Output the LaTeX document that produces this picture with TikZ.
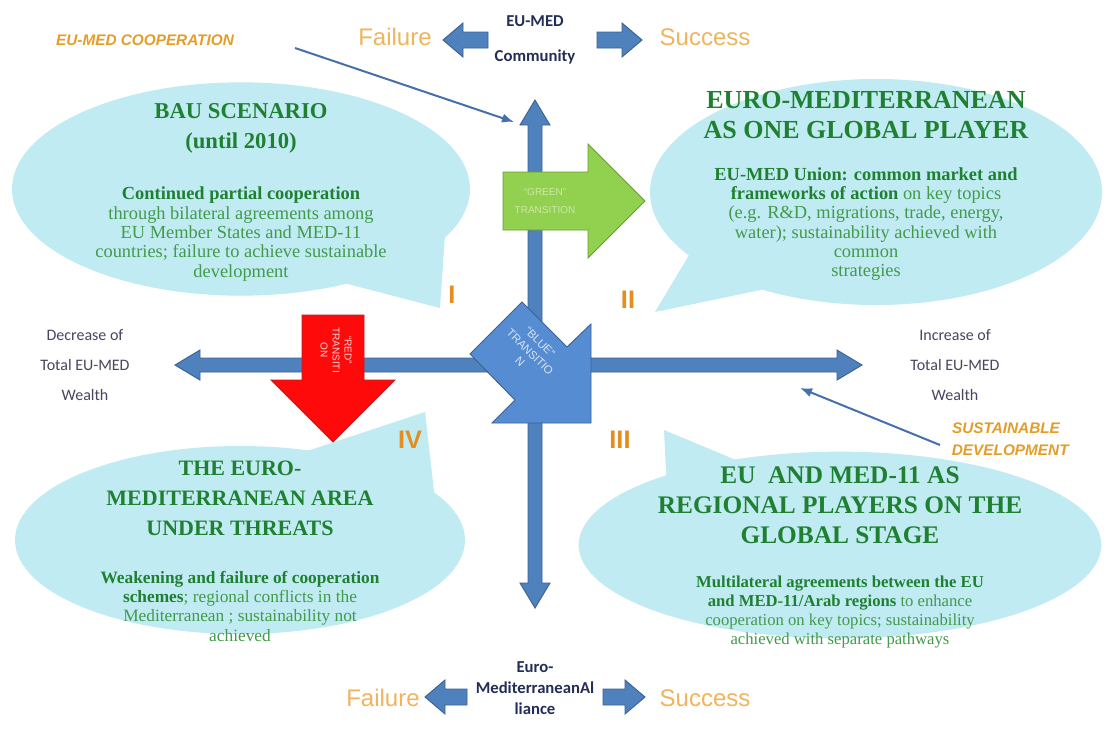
\documentclass[tikz,border=0pt]{standalone}
\usepackage{fontspec}
\setmainfont{Liberation Serif}
\newfontfamily\carl{Carlito}
\newfontfamily\ars{Liberation Sans}
\usetikzlibrary{arrows.meta}
\definecolor{axisblue}{RGB}{79,129,189}
\definecolor{axisedge}{RGB}{60,98,148}
\definecolor{transblue}{RGB}{86,140,210}
\definecolor{greenarrow}{RGB}{146,208,80}
\definecolor{greenedge}{RGB}{104,156,52}
\definecolor{redarrow}{RGB}{255,10,10}
\definecolor{rededge}{RGB}{185,30,30}
\definecolor{bubblecyan}{RGB}{192,235,242}
\definecolor{titlegreen}{RGB}{32,128,50}
\definecolor{bodygreen}{RGB}{66,154,74}
\definecolor{numorange}{RGB}{228,142,32}
\definecolor{lblorange}{RGB}{240,180,92}
\definecolor{cooporange}{RGB}{226,158,40}
\definecolor{navytext}{RGB}{35,45,85}
\definecolor{graytext}{RGB}{70,70,95}
\definecolor{pointer}{RGB}{70,112,172}
\newcommand\hb[1]{{\bfseries\color{titlegreen}#1}}
\tikzset{
  bubble/.style={fill=bubblecyan, draw=none},
  blockarrow/.style={fill=axisblue, draw=axisedge, line width=0.7pt, line join=miter},
  titletext/.style={align=center, text=titlegreen, inner sep=0pt, font=\fontsize{17}{22.5}\selectfont\bfseries},
  bodytext/.style={align=center, text=bodygreen, inner sep=0pt, font=\fontsize{13.8}{14.5}\selectfont},
  numeral/.style={text=numorange, inner sep=0pt, font=\ars\bfseries\fontsize{19}{19}\selectfont},
  axislabel/.style={align=center, text=graytext, inner sep=0pt, font=\carl\fontsize{12}{22.5}\selectfont},
  bignav/.style={align=center, text=navytext, inner sep=0pt, font=\carl\bfseries\fontsize{12.5}{26}\selectfont},
  outcome/.style={text=lblorange, inner sep=0pt, font=\ars\fontsize{18}{18}\selectfont},
  tag/.style={align=center, text=cooporange, inner sep=0pt, font=\ars\bfseries\itshape\fontsize{11.5}{16.5}\selectfont},
  pointerline/.style={draw=pointer, line width=1.5pt, -{Latex[length=9pt,width=7pt]}},
  transtext/.style={align=center, inner sep=0pt, font=\ars\fontsize{7.5}{9}\selectfont}
}
\begin{document}
\begin{tikzpicture}[x=0.75pt,y=-0.75pt]
\useasboundingbox (0,0) rectangle (1104,729);
\fill[white] (0,0) rectangle (1104,729);

% speech bubbles
\fill[bubble] (241,189) ellipse [x radius=171.75pt, y radius=80pt];
\fill[bubble] (340,282) -- (445,235) -- (440,308) -- cycle;
\fill[bubble] (876,192) ellipse [x radius=169.5pt, y radius=84.75pt];
\fill[bubble] (695,245) -- (770,288) -- (655,312) -- cycle;
\fill[bubble] (840,545) ellipse [x radius=196pt, y radius=70pt];
\fill[bubble] (668,515) -- (760,470) -- (664,430) -- cycle;
\fill[bubble] (240,540) ellipse [x radius=168.75pt, y radius=70.5pt];
\fill[bubble] (280,460) -- (435,500) -- (425,412) -- cycle;

% axes
\filldraw[blockarrow] (528,125) -- (520,125) -- (535,100) -- (550,125) -- (542,125) -- (542,583) -- (550,583) -- (535,608) -- (520,583) -- (528,583) -- cycle;
\filldraw[blockarrow] (200,358) -- (200,350) -- (175,365) -- (200,380) -- (200,372) -- (837,372) -- (837,380) -- (862,365) -- (837,350) -- (837,358) -- cycle;

% small outcome arrows
\filldraw[blockarrow] (488,32) -- (463,32) -- (463,23) -- (443,40) -- (463,57) -- (463,48) -- (488,48) -- cycle;
\filldraw[blockarrow] (597,32) -- (622,32) -- (622,23) -- (642,40) -- (622,57) -- (622,48) -- (597,48) -- cycle;
\filldraw[blockarrow] (467,689) -- (445,689) -- (445,680) -- (425,697) -- (445,714) -- (445,705) -- (467,705) -- cycle;
\filldraw[blockarrow] (603,689) -- (625,689) -- (625,680) -- (645,697) -- (625,714) -- (625,705) -- (603,705) -- cycle;

% transition arrows
\filldraw[fill=greenarrow, draw=greenedge, line width=0.7pt, line join=miter]
  (503,172) -- (588,172) -- (588,144) -- (645,201) -- (588,258) -- (588,230) -- (503,230) -- cycle;
\filldraw[fill=redarrow, draw=rededge, line width=0.7pt, line join=miter]
  (302,315) -- (364,315) -- (364,380) -- (395,380) -- (333,442) -- (271,380) -- (302,380) -- cycle;
\filldraw[fill=transblue, draw=axisedge, line width=0.7pt, line join=miter]
  (522,302) -- (567,347) -- (591,324) -- (591,423) -- (492,423) -- (515,400) -- (470,354) -- cycle;

\node[transtext, text={rgb,255:red,205;green,232;blue,170}] (greentxt) at (545,201) {“GREEN”\\[4pt]TRANSITION};
\node[transtext, text={rgb,255:red,255;green,215;blue,215}, rotate=-90] (redtxt) at (336,350) {“RED”\\TRANSITI\\ON};
\node[transtext, text={rgb,255:red,215;green,228;blue,248}, rotate=-45, font=\ars\fontsize{8.5}{10.5}\selectfont] (bluetxt) at (530,352) {“BLUE”\\TRANSITIO\\N};

% bubble texts
\node[titletext] (t1) at (241,128) {BAU SCENARIO\\(until 2010)};
\node[bodytext] (b1) at (241,234) {\hb{Continued partial cooperation}\\through bilateral agreements among\\EU Member States and MED-11\\countries; failure to achieve sustainable\\development};
\node[titletext, font=\fontsize{19.5}{22.5}\selectfont\bfseries] (t2) at (866,115) {EURO-MEDITERRANEAN\\AS ONE GLOBAL PLAYER};
\node[bodytext] (b2) at (866,224) {\hb{EU-MED Union: common market and}\\\hb{frameworks of action} on key topics\\(e.g. R\&D, migrations, trade, energy,\\water); sustainability achieved with\\common\\strategies};
\node[titletext, font=\fontsize{16.5}{22.5}\selectfont\bfseries] (t4) at (240,498) {THE EURO-\\MEDITERRANEAN AREA\\UNDER THREATS};
\node[bodytext, font=\fontsize{13}{14.5}\selectfont] (b4) at (240,606) {\hb{Weakening and failure of cooperation}\\\hb{schemes}; regional conflicts in the\\Mediterranean ; sustainability not\\achieved};
\node[titletext, font=\fontsize{19}{22.5}\selectfont\bfseries] (t3) at (840,505) {EU\ \ AND MED-11 AS\\REGIONAL PLAYERS ON THE\\GLOBAL STAGE};
\node[bodytext, font=\fontsize{12.5}{14.2}\selectfont] (b3) at (840,612) {\hb{Multilateral agreements between the EU}\\\hb{and MED-11/Arab regions} to enhance\\cooperation on key topics; sustainability\\achieved with separate pathways};

% numerals
\node[numeral] (n1) at (452,295) {I};
\node[numeral] (n2) at (628,300) {II};
\node[numeral] (n3) at (620,440) {III};
\node[numeral] (n4) at (410,440) {IV};

% axis labels
\node[axislabel] (dec) at (85,365) {Decrease of\\Total EU-MED\\Wealth};
\node[axislabel] (inc) at (955,365) {Increase of\\Total EU-MED\\Wealth};
\node[bignav] (comm) at (535,40) {EU-MED\\Community};
\node[bignav, font=\carl\bfseries\fontsize{12.5}{16}\selectfont] (alli) at (535,688) {Euro-\\MediterraneanAl\\liance};
\node[outcome] (f1) at (395,37) {Failure};
\node[outcome] (s1) at (705,37) {Success};
\node[outcome] (f2) at (383,698) {Failure};
\node[outcome] (s2) at (705,698) {Success};

% tags and pointers
\node[tag] (coop) at (145,40) {EU-MED COOPERATION};
\node[tag] (sust) at (1006,439) {SUSTAINABLE\\\ \ DEVELOPMENT};
\coordinate (coopstart) at (295,48);
\coordinate (coopend) at (514,122);
\coordinate (suststart) at (940,445);
\coordinate (sustend) at (800,388);
\draw[pointerline] (coopstart) -- (coopend);
\draw[pointerline] (suststart) -- (sustend);
\end{tikzpicture}
\end{document}
